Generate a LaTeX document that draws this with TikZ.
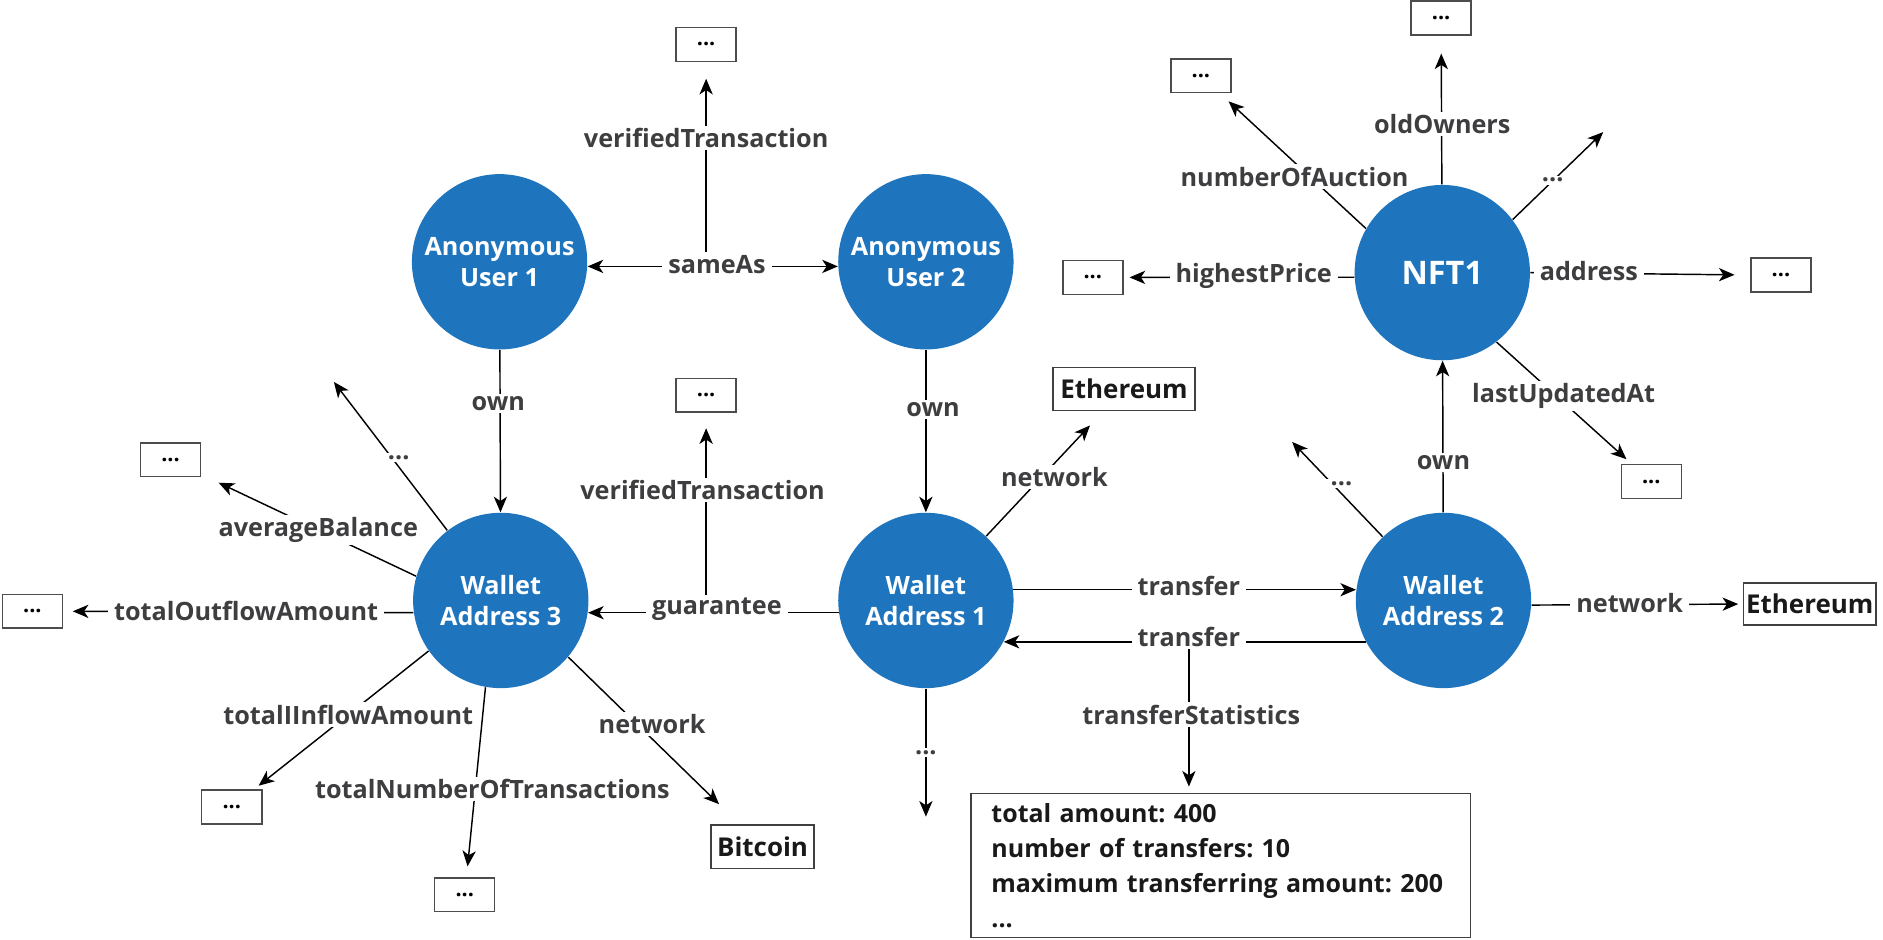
\documentclass[tikz,border=0pt]{standalone}
\usepackage{fontspec}
\setmainfont{Open Sans}
\usetikzlibrary{arrows.meta}
\definecolor{nodeblue}{RGB}{31,117,189}
\definecolor{lblgray}{RGB}{62,62,64}
\pgfdeclarelayer{bg}
\pgfsetlayers{bg,main}
\frenchspacing
\begin{document}
\begin{tikzpicture}[x=0.5pt,y=-0.5pt,
  ent/.style={circle, fill=nodeblue, minimum size=73pt, inner sep=0pt, text=white,
    font=\bfseries\fontsize{10.5}{13}\selectfont, align=center},
  lbl/.style={fill=white, text=lblgray, font=\bfseries\fontsize{10.5}{12}\selectfont,
    inner xsep=2.5pt, inner ysep=1pt},
  dotbox/.style={draw=black!70, fill=white, line width=0.6pt, minimum width=25pt,
    minimum height=14pt, inner sep=0pt, font=\bfseries\fontsize{9}{10}\selectfont},
  valbox/.style={draw=black!75, fill=white, line width=0.6pt, inner sep=0pt,
    minimum height=18pt, font=\bfseries\fontsize{10.8}{13}\selectfont, text=black!90},
  conn/.style={line width=0.6pt},
  arr/.style={conn, -{Stealth[length=6.5pt,width=5.5pt,inset=1.8pt]}},
]
\useasboundingbox (0,0) rectangle (1568,782);
% entities
\node[ent] (AU1) at (416,218) {Anonymous\\User 1};
\node[ent] (AU2) at (771,218) {Anonymous\\User 2};
\node[ent] (WA3) at (417,500) {Wallet\\Address 3};
\node[ent] (WA1) at (771,500) {Wallet\\Address 1};
\node[ent] (WA2) at (1202,500) {Wallet\\Address 2};
\node[ent, font=\bfseries\fontsize{13.5}{15}\selectfont] (NFT1) at (1201,227) {NFT1};
% boxes
\node[dotbox] (b1) at (588,37) {...};
\node[dotbox] (b2) at (588,329) {...};
\node[dotbox] (b3) at (142,383) {...};
\node[dotbox] (b4) at (27,509) {...};
\node[dotbox] (b5) at (193,672) {...};
\node[dotbox] (b6) at (387,745) {...};
\node[dotbox] (b7) at (1000,63) {...};
\node[dotbox] (b8) at (1200,15) {...};
\node[dotbox] (b9) at (910,231) {...};
\node[dotbox] (b10) at (1483,229) {...};
\node[dotbox] (b11) at (1375,401) {...};
\node[valbox, minimum width=59pt] (eth1) at (936,324) {Ethereum};
\node[valbox, minimum width=55pt, minimum height=17.5pt] (eth2) at (1507,503) {Ethereum};
\node[valbox, minimum width=43pt] (btc) at (635,705) {Bitcoin};
\node[draw=black!75, line width=0.6pt, anchor=north west, minimum height=60pt,
  inner xsep=8.5pt, inner ysep=3pt, align=left, text width=191pt,
  font=\bfseries\fontsize{10.4}{14.6}\selectfont, text=black!90] (stats) at (808,660)
  {total amount: 400\\number of transfers: 10\\maximum transferring amount: 200\\...};
% free ends
\coordinate (wa3end) at (278,318);
\coordinate (wa1end) at (771,680);
\coordinate (wa2end) at (1076,368);
\coordinate (nftend) at (1335,110);
% labels
\node[lbl] (sameAs) at (597,220) {sameAs};
\node[lbl] (vt1) at (588,115) {verifiedTransaction};
\node[lbl] (own1) at (415,336) {own};
\node[lbl] (own2) at (777,341) {own};
\node[lbl] (vt2) at (585,408) {verifiedTransaction};
\node[lbl] (guar) at (597,507) {guarantee};
\node[lbl] (net1) at (878,397) {network};
\node[lbl] (dots1) at (771,627) {...};
\node[lbl] (trA) at (990,488) {transfer};
\node[lbl] (trB) at (990,530) {transfer};
\node[lbl] (trS) at (992,595) {transferStatistics};
\node[lbl] (own3) at (1202,385) {own};
\node[lbl] (dots2) at (1117,403) {...};
\node[lbl] (net2) at (1357,502) {network};
\node[lbl] (oldO) at (1201,103) {oldOwners};
\node[lbl] (numA) at (1078,147) {numberOfAuction};
\node[lbl] (dots3) at (1293,150) {...};
\node[lbl] (highP) at (1044,230) {highestPrice};
\node[lbl] (addr) at (1323,226) {address};
\node[lbl] (lastU) at (1302,330) {lastUpdatedAt};
\node[lbl] (dots4) at (332,381) {...};
\node[lbl] (avgB) at (265,441) {averageBalance};
\node[lbl] (outA) at (205,509) {totalOutflowAmount};
\node[lbl] (inA) at (290,595) {totalIInflowAmount};
\node[lbl] (numT) at (410,657) {totalNumberOfTransactions};
\node[lbl] (net3) at (543,603) {network};
% connectors
\begin{pgfonlayer}{bg}
\draw[conn, {Stealth[length=6.5pt,width=5.5pt,inset=1.8pt]}-{Stealth[length=6.5pt,width=5.5pt,inset=1.8pt]}] (AU1.-3) -- (AU2.183);
\draw[arr, shorten >=7pt] (sameAs.north -| b1) -- (b1);
\draw[arr] (AU1) -- (WA3);
\draw[arr] (AU2) -- (WA1);
\draw[arr] (WA1.188) -- (WA3.-8);
\draw[arr, shorten >=6.5pt] (guar.north -| b2) -- (b2);
\draw[arr, shorten >=8pt] (WA1) -- (eth1);
\draw[arr] (WA1) -- (wa1end);
\draw[arr] (WA1.7) -- (WA2.173);
\draw[arr] (WA2.208.6) -- (WA1.-28.6);
\draw[arr, shorten >=2.5pt] (trB.center) -- (trB.center |- stats.north);
\draw[arr] (WA2) -- (NFT1);
\draw[arr] (WA2) -- (wa2end);
\draw[arr, shorten >=2pt] (WA2.-3) -- (eth2.west);
\draw[arr, shorten >=7.5pt] (NFT1) -- (b8);
\draw[arr, shorten >=5pt] (NFT1.150) -- (b7);
\draw[arr] (NFT1.37) -- (nftend);
\draw[arr, shorten >=2.5pt] (NFT1.183) -- (b9.east);
\draw[arr, shorten >=6.5pt] (NFT1.0) -- (b10.west);
\draw[arr, shorten >=3pt] (NFT1.-52) -- (b11);
\draw[arr] (WA3) -- (wa3end);
\draw[arr, shorten >=8pt] (WA3.164) -- (b3);
\draw[arr, shorten >=4pt] (WA3.188) -- (b4.east);
\draw[arr, shorten >=2.5pt] (WA3.215) -- (b5);
\draw[arr, shorten >=4.5pt] (WA3.-100) -- (b6);
\draw[arr, shorten >=12pt] (WA3.-40) -- (btc);
\end{pgfonlayer}
\end{tikzpicture}
\end{document}
